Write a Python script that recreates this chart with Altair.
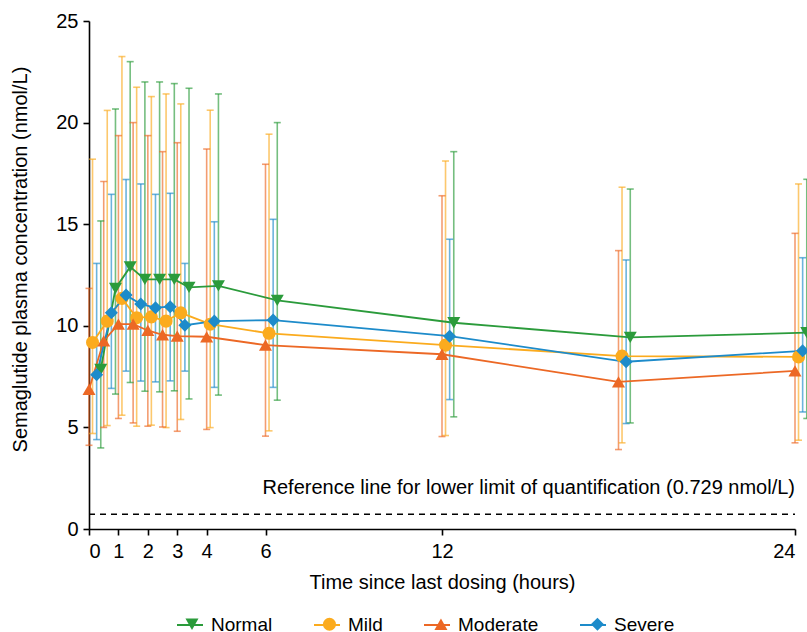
import altair as alt
import pandas as pd

# ---------------- data ----------------
groups = ["Normal", "Mild", "Moderate", "Severe"]
times = [0, 0.5, 1, 1.5, 2, 2.5, 3, 4, 6, 12, 18, 24]

normal_mean = [7.85, 11.84, 12.90, 12.28, 12.28, 12.28, 11.89, 11.96, 11.25, 10.15, 9.43, 9.66]
normal_hi = [15.16, 20.67, 23.00, 22.00, 22.00, 21.92, 21.69, 21.41, 20.00, 18.57, 16.73, 17.21]
normal_lo = [3.99, 6.64, 7.21, 6.78, 6.75, 6.80, 6.40, 6.59, 6.34, 5.52, 5.22, 5.44]

mild_mean = [9.18, 10.23, 11.35, 10.40, 10.44, 10.23, 10.64, 10.08, 9.63, 9.05, 8.51, 8.47]
mild_hi = [18.20, 20.60, 23.25, 21.74, 21.28, 21.41, 20.92, 20.61, 19.43, 18.11, 16.82, 16.98]
mild_lo = [4.70, 5.09, 5.60, 5.06, 5.11, 4.99, 5.39, 4.99, 4.83, 4.60, 4.24, 4.37]

moderate_mean = [6.87, 9.26, 10.08, 10.08, 9.77, 9.56, 9.49, 9.46, 9.05, 8.60, 7.24, 7.78]
moderate_hi = [11.84, 17.10, 19.36, 20.00, 19.36, 18.57, 19.01, 18.70, 17.95, 16.40, 13.70, 14.55]
moderate_lo = [4.12, 5.00, 5.44, 5.22, 5.06, 5.02, 4.81, 4.90, 4.57, 4.55, 3.91, 4.24]

severe_mean = [7.59, 10.64, 11.51, 11.07, 10.89, 10.94, 10.03, 10.23, 10.28, 9.49, 8.23, 8.77]
severe_hi = [13.07, 16.47, 17.20, 16.98, 16.47, 16.52, 13.07, 15.12, 15.24, 14.26, 13.24, 13.35]
severe_lo = [4.40, 6.92, 7.77, 7.28, 7.24, 7.29, 7.77, 6.97, 6.97, 6.37, 5.19, 5.76]

x_ticks = [0, 1, 2, 3, 4, 6, 12, 24]
y_ticks = [0, 5, 10, 15, 20, 25]
lloq = 0.729
lloq_label = "Reference line for lower limit of quantification (0.729 nmol/L)"

# ---------------- styling ----------------
colors = ["#2b9b3b", "#fbab1e", "#ec6825", "#1d8bca"]
shapes = ["triangle-down", "circle", "triangle-up", "diamond"]
dodge = {"Normal": 0.40, "Mild": 0.12, "Moderate": 0.0, "Severe": 0.26}
FONT = "Liberation Sans"
FS = 20
LFS = 19

series = {
    "Normal": (normal_mean, normal_lo, normal_hi),
    "Mild": (mild_mean, mild_lo, mild_hi),
    "Moderate": (moderate_mean, moderate_lo, moderate_hi),
    "Severe": (severe_mean, severe_lo, severe_hi),
}
rows = []
for g in groups:
    m, lo, hi = series[g]
    for t, a, b, c in zip(times, m, lo, hi):
        rows.append({"group": g, "g2": g, "time": t, "t": t + dodge[g],
                     "mean": a, "lo": b, "hi": c})
df = pd.DataFrame(rows)

ref_df = pd.DataFrame({"x0": [0], "x1": [24], "y": [lloq]})
txt_df = pd.DataFrame({"x": [24], "y": [2.0], "label": [lloq_label]})

# two overlaid legends: line symbols (with labels) + marker symbols (labels hidden)
LX, LY = 87, 590
LINE_W = 26
MARK = 170
mark_w = MARK ** 0.5
OFF_A = 7
PAD_A = 37
half = (LINE_W - mark_w) / 2
legend_line = alt.Legend(
    title=None, orient="none", direction="horizontal", columns=4,
    legendX=LX, legendY=LY,
    symbolType="stroke", symbolSize=LINE_W ** 2, symbolStrokeWidth=2, symbolOpacity=1,
    labelFont=FONT, labelFontSize=LFS, labelColor="black",
    labelOffset=OFF_A, columnPadding=PAD_A,
)
legend_mark = alt.Legend(
    title=None, orient="none", direction="horizontal", columns=4, values=groups,
    legendX=LX + half, legendY=LY + (LINE_W - LFS) / 2,
    symbolSize=MARK, symbolOpacity=1, symbolStrokeWidth=0,
    labelFont=FONT, labelFontSize=LFS, labelOpacity=0,
    labelOffset=OFF_A + half, columnPadding=PAD_A + half,
)

xs = alt.Scale(domain=[0, 24], nice=False, zero=False)
ys = alt.Scale(domain=[0, 25], nice=False)
cscale = alt.Scale(domain=groups, range=colors)
# marker scales list the groups in reverse so they form their own legend
fscale = alt.Scale(domain=groups[::-1], range=colors[::-1])
sscale = alt.Scale(domain=groups[::-1], range=shapes[::-1])

X = alt.X("t:Q", scale=xs, axis=alt.Axis(values=x_ticks, title="Time since last dosing (hours)",
                                          labelPadding=6, titlePadding=11))
Y = alt.Y("mean:Q", scale=ys, axis=alt.Axis(values=y_ticks,
                                             title="Semaglutide plasma concentration (nmol/L)",
                                             labelPadding=5, titlePadding=25, titleY=238))

base = alt.Chart(df)
c_line = alt.Color("group:N", scale=cscale, legend=legend_line)

err = base.mark_rule(strokeWidth=1.6, opacity=0.65).encode(
    x=alt.X("t:Q", scale=xs), y=alt.Y("lo:Q", scale=ys), y2="hi:Q", color=c_line
)
cap_hi = base.mark_tick(orient="horizontal", size=7, thickness=1.6, opacity=0.65).encode(
    x=alt.X("t:Q", scale=xs), y=alt.Y("hi:Q", scale=ys), color=c_line
)
cap_lo = base.mark_tick(orient="horizontal", size=7, thickness=1.6, opacity=0.65).encode(
    x=alt.X("t:Q", scale=xs), y=alt.Y("lo:Q", scale=ys), color=c_line
)
lines = base.mark_line(strokeWidth=1.8).encode(
    x=X, y=Y, color=c_line, order="t:Q"
)
points = base.mark_point(filled=True, size=170, opacity=1).encode(
    x=X, y=Y,
    fill=alt.Fill("g2:N", scale=fscale, legend=legend_mark),
    shape=alt.Shape("g2:N", scale=sscale, legend=legend_mark),
)

ref_line = alt.Chart(ref_df).mark_rule(color="black", strokeWidth=1.5, strokeDash=[6, 5]).encode(
    x=alt.X("x0:Q", scale=xs), x2="x1:Q", y=alt.Y("y:Q", scale=ys)
)
ref_text = alt.Chart(txt_df).mark_text(align="right", baseline="middle", font=FONT,
                                       fontSize=FS, color="black").encode(
    x=alt.X("x:Q", scale=xs), y=alt.Y("y:Q", scale=ys), text="label:N"
)

chart = alt.layer(err, cap_hi, cap_lo, lines, points, ref_line, ref_text).properties(
    width=706,
    height=508,
    background="white",
    autosize=alt.AutoSizeParams(type="none"),
    padding={"left": 89, "top": 21, "right": 12, "bottom": 103},
).configure_view(stroke=None).configure_axis(
    grid=False,
    domainColor="black",
    domainWidth=1.6,
    tickColor="black",
    tickWidth=1.6,
    tickSize=6,
    labelFont=FONT,
    labelFontSize=FS,
    labelColor="black",
    titleFont=FONT,
    titleFontSize=FS,
    titleFontWeight="normal",
    titleColor="black",
)

chart.save("out.html", embed_options={"renderer": "svg", "actions": False})
